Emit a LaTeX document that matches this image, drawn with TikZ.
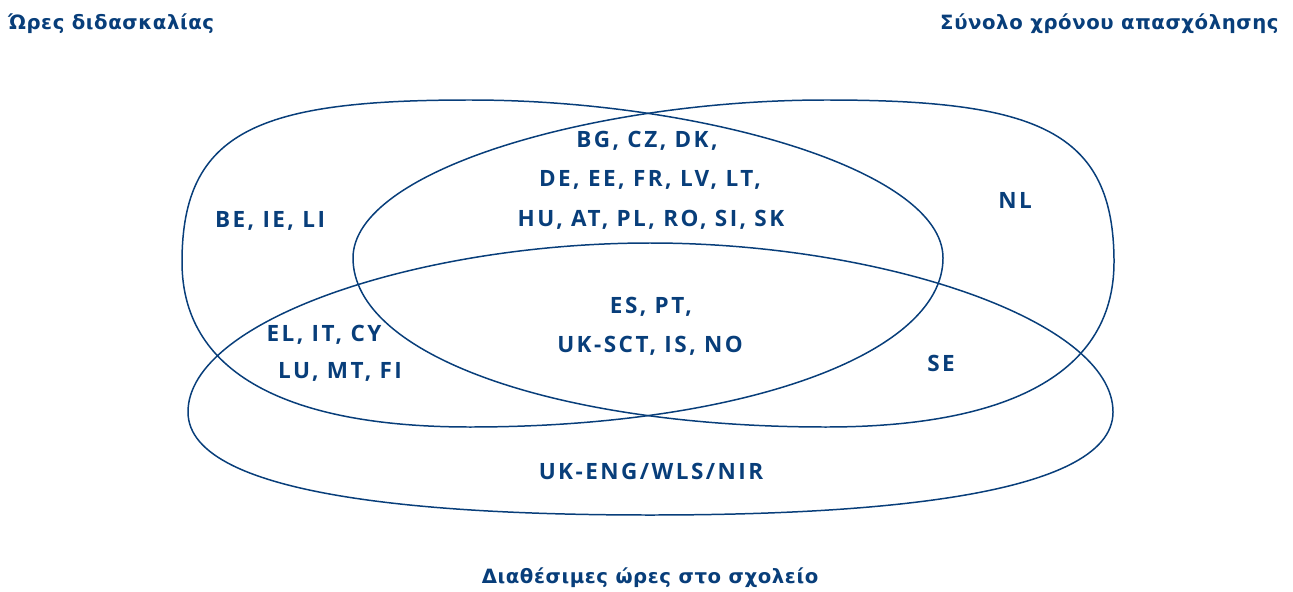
\documentclass[tikz,border=0pt]{standalone}
\usepackage{fontspec}
\setmainfont{Open Sans}
\newfontfamily\lblfont[LetterSpace=11]{Open Sans}
\newfontfamily\hdrfont[LetterSpace=3]{DejaVu Sans}
\definecolor{eublue}{RGB}{8,62,122}
\begin{document}
\begin{tikzpicture}[x=0.02cm,y=-0.02cm,
  setline/.style={draw=eublue,line width=0.85pt},
  lbl/.style={text=eublue,font=\lblfont\bfseries\fontsize{12.8}{15}\selectfont,inner sep=0pt,anchor=center},
  hdr/.style={text=eublue,font=\hdrfont\bfseries\fontsize{11.2}{13}\selectfont,inner sep=0pt}]
\useasboundingbox (0,0) rectangle (1293,591);
% set A: teaching hours (blunt left end)
\draw[setline] (182,262) .. controls (182,130) and (260,100) .. (470,100)
  .. controls (700,100) and (943,170) .. (943,258)
  .. controls (943,355) and (740,427) .. (470,427)
  .. controls (300,427) and (182,380) .. (182,262) -- cycle;
% set B: total working time (blunt right end)
\draw[setline] (1114,262) .. controls (1114,130) and (1036,100) .. (826,100)
  .. controls (596,100) and (353,170) .. (353,258)
  .. controls (353,355) and (556,427) .. (826,427)
  .. controls (996,427) and (1114,380) .. (1114,262) -- cycle;
% set C: available hours at school
\draw[setline] (188,412) .. controls (188,320) and (420,243) .. (650,243)
  .. controls (880,243) and (1113,320) .. (1113,412)
  .. controls (1113,500) and (850,515) .. (650,515)
  .. controls (450,515) and (188,500) .. (188,412) -- cycle;
% headers
\node[hdr,anchor=west] (hA) at (8,24) {Ώρες διδασκαλίας};
\node[hdr,anchor=east] (hB) at (1279,24) {Σύνολο χρόνου απασχόλησης};
\node[hdr] (hC) at (650,578) {Διαθέσιμες ώρες στο σχολείο};
% labels
\node[lbl] (onlyA) at (270,221) {BE, IE, LI};
\node[lbl] (ab1) at (647,141) {BG, CZ, DK,};
\node[lbl] (ab2) at (650,180) {DE, EE, FR, LV, LT,};
\node[lbl] (ab3) at (651,220) {HU, AT, PL, RO, SI, SK};
\node[lbl] (abc1) at (651,307) {ES, PT,};
\node[lbl] (abc2) at (650,346) {UK-SCT, IS, NO};
\node[lbl] (ac1) at (324,335) {EL, IT, CY};
\node[lbl] (ac2) at (340,372) {LU, MT, FI};
\node[lbl] (onlyB) at (1015,200) {NL};
\node[lbl] (bc) at (941,363) {SE};
\node[lbl] (onlyC) at (651,471) {UK-ENG/WLS/NIR};
\end{tikzpicture}
\end{document}
